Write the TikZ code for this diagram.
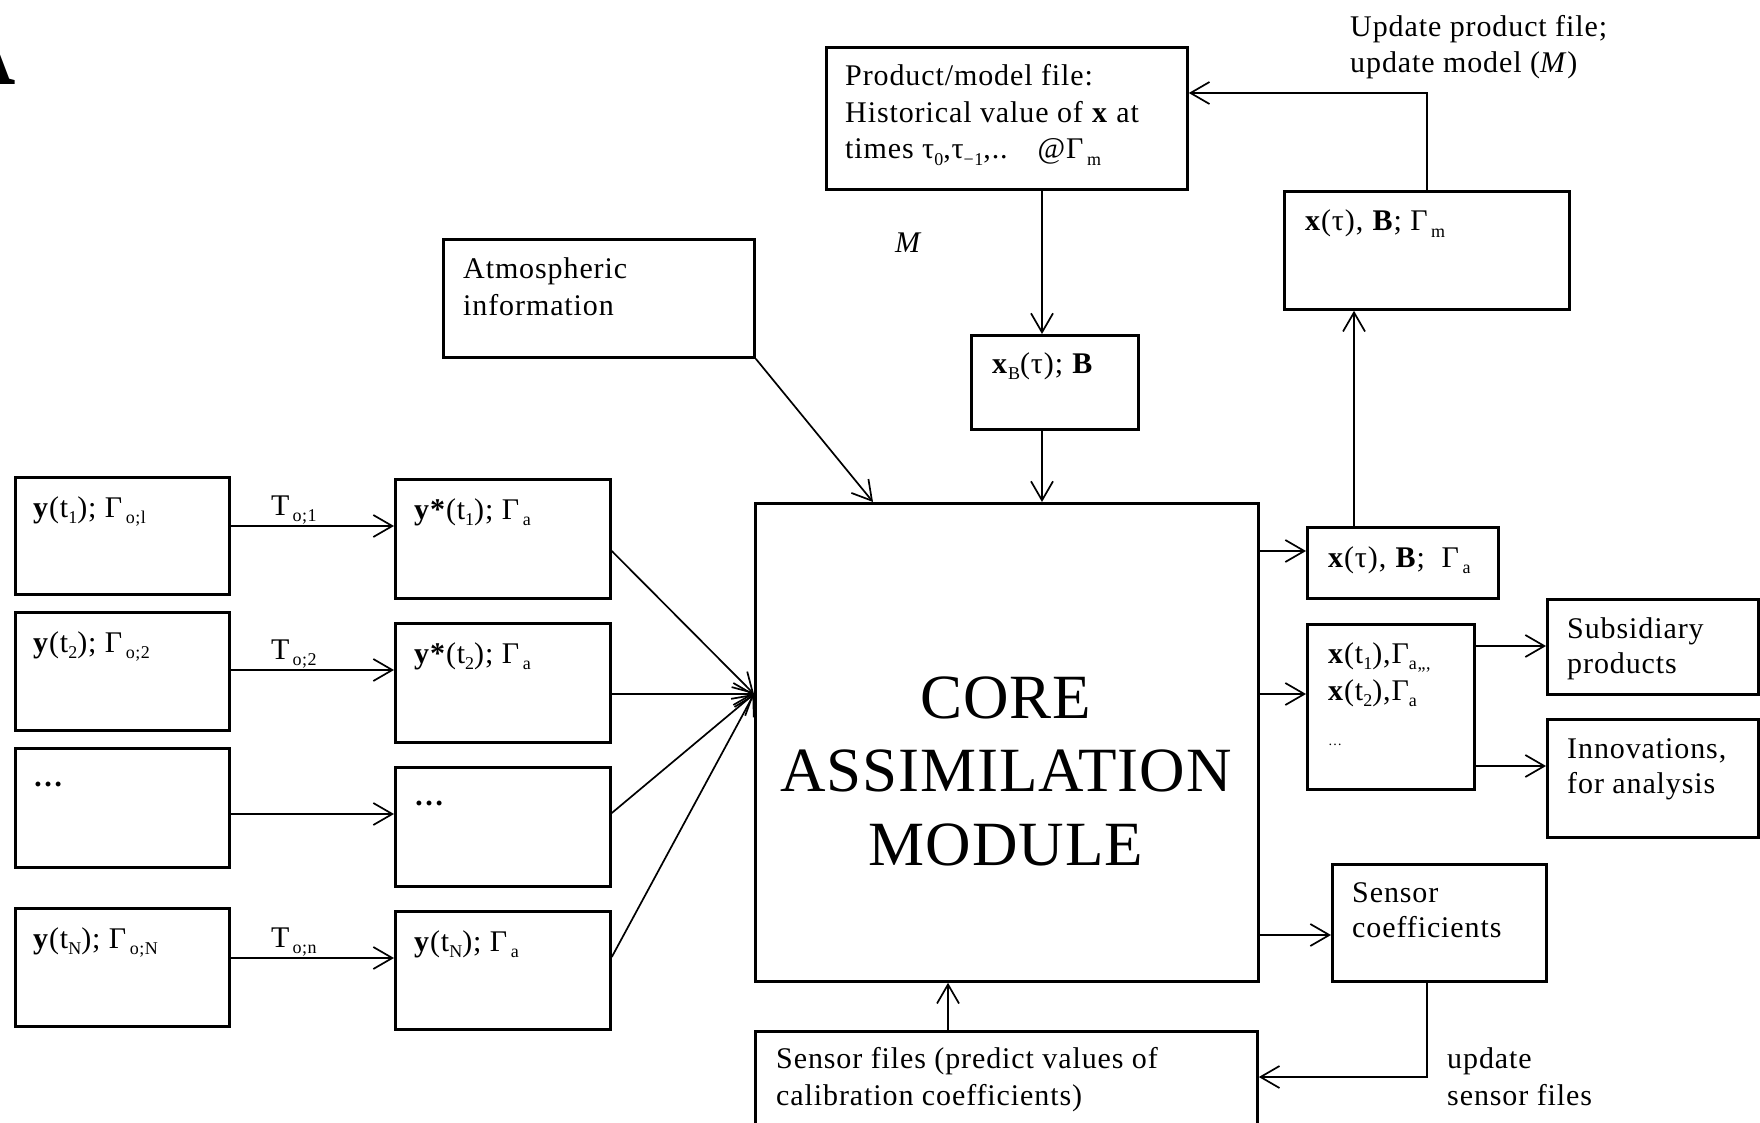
\documentclass[tikz,border=0pt]{standalone}
\usepackage{fontspec}
\setmainfont[LetterSpace=3]{Liberation Serif}
\newfontfamily\corefont[LetterSpace=1.5]{Liberation Serif}
\usetikzlibrary{arrows.meta}
\newcommand\lo[1]{\raisebox{-0.22em}{\fontsize{18}{18}\selectfont #1}}
\newcommand\gl[1]{Γ\kern0.12em\lo{#1}}
\newcommand\ls[1]{\begin{tabular}[t]{@{}l@{}}#1\end{tabular}}
\tikzset{
  box/.style={draw, line width=2.8pt, inner sep=0pt, anchor=north west},
  txt/.style={inner sep=0pt, anchor=base west, font=\fontsize{30}{37}\selectfont},
  con/.style={line width=1.7pt, -{Straight Barb[length=19pt,width=22pt,line width=1.7pt]}},
}
\begin{document}
\begin{tikzpicture}[x=1pt,y=-1pt]
\useasboundingbox (0,0) rectangle (1760,1123);
\clip (0,0) rectangle (1760,1123);
\fill[white] (0,0) rectangle (1760,1123);

% boxes
\node[box, minimum width=361pt, minimum height=142pt] (prod) at (825,46) {};
\node[box, minimum width=311pt, minimum height=118pt] (atm) at (442,238) {};
\node[box, minimum width=167pt, minimum height=94pt] (xb) at (970,334) {};
\node[box, minimum width=285pt, minimum height=118pt] (xm) at (1283,190) {};
\node[box, minimum width=503pt, minimum height=478pt] (core) at (754,502) {};
\node[box, minimum width=191pt, minimum height=71pt] (xa) at (1306,526) {};
\node[box, minimum width=167pt, minimum height=165pt] (xt) at (1306,623) {};
\node[box, minimum width=211pt, minimum height=95pt] (subs) at (1546,598) {};
\node[box, minimum width=211pt, minimum height=118pt] (innov) at (1546,718) {};
\node[box, minimum width=214pt, minimum height=117pt] (sc) at (1331,863) {};
\node[box, minimum width=502pt, minimum height=120pt] (sf) at (754,1030) {};
\node[box, minimum width=214pt, minimum height=117pt] (L1) at (14,476) {};
\node[box, minimum width=214pt, minimum height=118pt] (L2) at (14,611) {};
\node[box, minimum width=214pt, minimum height=119pt] (L3) at (14,747) {};
\node[box, minimum width=214pt, minimum height=118pt] (L4) at (14,907) {};
\node[box, minimum width=215pt, minimum height=119pt] (M1) at (394,478) {};
\node[box, minimum width=215pt, minimum height=119pt] (M2) at (394,622) {};
\node[box, minimum width=215pt, minimum height=119pt] (M3) at (394,766) {};
\node[box, minimum width=215pt, minimum height=118pt] (M4) at (394,910) {};

% levels
\coordinate (h1) at (0,526);
\coordinate (h2) at (0,670);
\coordinate (h3) at (0,814);
\coordinate (h4) at (0,958);
\coordinate (s1) at (0,551);
\coordinate (s2) at (0,694);
\coordinate (s3) at (0,813);
\coordinate (s4) at (0,957);
\coordinate (cin) at (0,694);
\coordinate (ain) at (873,0);
\coordinate (vx) at (1042,0);
\coordinate (ra) at (0,551);
\coordinate (rs) at (0,935);
\coordinate (v2) at (1354,0);
\coordinate (v3) at (1427,93);
\coordinate (rp) at (0,646);
\coordinate (ri) at (0,766);
\coordinate (v4) at (1427,1077);
\coordinate (v5) at (948,0);

% connectors
\draw[con] (L1.east |- h1) -- (M1.west |- h1);
\draw[con] (L2.east |- h2) -- (M2.west |- h2);
\draw[con] (L3.east |- h3) -- (M3.west |- h3);
\draw[con] (L4.east |- h4) -- (M4.west |- h4);
\draw[con] (M1.east |- s1) -- (core.west |- cin);
\draw[con] (M2.east |- s2) -- (core.west |- cin);
\draw[con] (M3.east |- s3) -- (core.west |- cin);
\draw[con] (M4.east |- s4) -- (core.west |- cin);
\draw[con] (atm.south east) -- (core.north -| ain);
\draw[con] (prod.south -| vx) -- (xb.north -| vx);
\draw[con] (xb.south -| vx) -- (core.north -| vx);
\draw[con] (core.east |- ra) -- (xa.west |- ra);
\draw[con] (core.east |- cin) -- (xt.west |- cin);
\draw[con] (core.east |- rs) -- (sc.west |- rs);
\draw[con] (xa.north -| v2) -- (xm.south -| v2);
\draw[con] (xm.north -| v3) -- (v3) -- (prod.east |- v3);
\draw[con] (xt.east |- rp) -- (subs.west |- rp);
\draw[con] (xt.east |- ri) -- (innov.west |- ri);
\draw[con] (sc.south -| v4) -- (v4) -- (sf.east |- v4);
\draw[con] (sf.north -| v5) -- (core.south -| v5);

% texts
\node[txt, font=\fontsize{30}{36.5}\selectfont] (tprod) at (845,86) {\ls{Product/model file:\\Historical value of \textbf{x} at\\times τ\lo{0},τ\lo{−1},..\quad @\gl{m}}};
\node[txt, font=\fontsize{30}{36}\selectfont] (tupd) at (1350,37) {\ls{Update product file;\\update model (\textit{M})}};
\node[txt] (tatm) at (463,278) {\ls{Atmospheric\\information}};
\node[txt] (tM) at (895,252) {\textit{M}};
\node[txt] (txb) at (992,373) {\textbf{x}\lo{B}(τ); \textbf{B}};
\node[txt] (txm) at (1305,231) {\textbf{x}(τ), \textbf{B}; \gl{m}};
\node[txt] (txa) at (1328,567) {\textbf{x}(τ), \textbf{B};\ \ \gl{a}};
\node[txt, font=\fontsize{30}{37}\selectfont] (txt) at (1328,663) {\ls{\textbf{x}(t\lo{1}),Γ\lo{a,,,}\\\textbf{x}(t\lo{2}),Γ\lo{a}\\[8pt]{\fontsize{14}{14}\selectfont …}}};
\node[txt, font=\fontsize{30}{35}\selectfont] (tsubs) at (1567,638) {\ls{Subsidiary\\products}};
\node[txt, font=\fontsize{30}{35}\selectfont] (tinnov) at (1567,758) {\ls{Innovations,\\for analysis}};
\node[txt, font=\fontsize{30}{35}\selectfont] (tsc) at (1352,902) {\ls{Sensor\\coefficients}};
\node[txt] (tusf) at (1447,1068) {\ls{update\\sensor files}};
\node[txt] (tsf) at (776,1068) {\ls{Sensor files (predict values of\\calibration coefficients)}};
\node[txt] (tL1) at (33,517) {\textbf{y}(t\lo{1}); \gl{o;l}};
\node[txt] (tL2) at (33,652) {\textbf{y}(t\lo{2}); \gl{o;2}};
\node[txt] (tL3) at (33,786) {\textbf{…}};
\node[txt] (tL4) at (33,948) {\textbf{y}(t\lo{N}); \gl{o;N}};
\node[txt] (tM1) at (414,519) {\textbf{y*}(t\lo{1}); \gl{a}};
\node[txt] (tM2) at (414,663) {\textbf{y*}(t\lo{2}); \gl{a}};
\node[txt] (tM3) at (414,805) {\textbf{…}};
\node[txt] (tM4) at (414,951) {\textbf{y}(t\lo{N}); \gl{a}};
\node[txt] (tT1) at (271,515) {T\kern0.1em\lo{o;1}};
\node[txt] (tT2) at (271,659) {T\kern0.1em\lo{o;2}};
\node[txt] (tT4) at (271,947) {T\kern0.1em\lo{o;n}};
\node[inner sep=0pt, anchor=base, font=\corefont\fontsize{63}{73.5}\selectfont] (tcore) at (1006,718) {\begin{tabular}[t]{@{}c@{}}CORE\\ASSIMILATION\\MODULE\end{tabular}};
\node[inner sep=0pt, anchor=base east, font=\bfseries\fontsize{110}{110}\selectfont] (bigA) at (16,85) {A};
\end{tikzpicture}
\end{document}
